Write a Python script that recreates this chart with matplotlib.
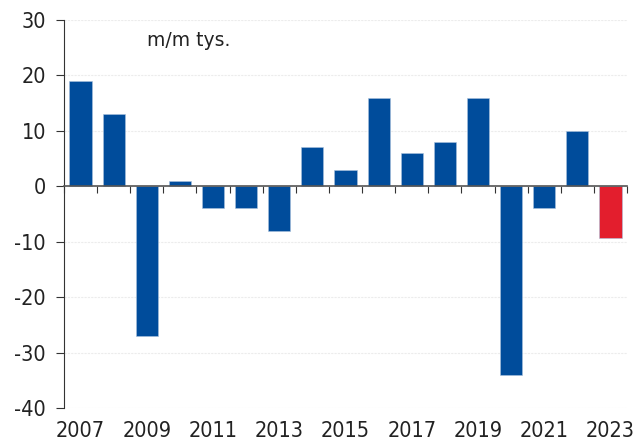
import numpy as np
from matplotlib import pyplot as plt

years = list(range(2007, 2024))
values = [19, 13, -27, 1, -4, -4, -8, 7, 3, 16, 6, 8, 16, -34, -4, 10, -9.3]
colors = ['#004c9b'] * 16 + ['#e31e2d']
year_labels = [str(y) if (y - 2007) % 2 == 0 else '' for y in years]
yticks = [-40, -30, -20, -10, 0, 10, 20, 30]

plt.rcParams['font.family'] = ['DejaVu Sans']
plt.rcParams['font.stretch'] = 'condensed'

fig = plt.figure(figsize=(6.44, 4.43), dpi=100)
ax = fig.add_axes([0.0994, 0.079, 0.8742, 0.8759])

x = np.arange(len(years))
ax.bar(x, values, width=0.67, color=colors, edgecolor='#a9c1dd', linewidth=0.4, zorder=3)

ax.set_xlim(-0.5, len(years) - 0.5)
ax.set_ylim(-40, 30)
ax.set_yticks(yticks)
ax.set_yticklabels([str(v) for v in yticks], fontsize=15.5, color='#222222')
ax.yaxis.grid(True, color='#ececec', linestyle=(0, (2, 1)), linewidth=0.8, zorder=0)

for s in ['top', 'right']:
    ax.spines[s].set_visible(False)
ax.spines['left'].set_color('#333333')
ax.spines['bottom'].set_position(('data', 0))
ax.spines['bottom'].set_color('#555555')
ax.spines['bottom'].set_linewidth(1.2)
ax.spines['bottom'].set_zorder(4)

ax.set_xticks(np.arange(len(years) + 1) - 0.5)
ax.set_xticklabels([])
ax.tick_params(axis='x', length=5, color='#333333')
ax.tick_params(axis='y', length=6, color='#333333', pad=7)

for xi, lab in zip(x, year_labels):
    ax.text(xi, -0.033, lab, transform=ax.get_xaxis_transform(), ha='center', va='top',
            fontsize=15.5, color='#222222')

ax.text(0.147, 0.948, 'm/m tys.', transform=ax.transAxes, fontsize=13.5, color='#222222',
        ha='left', va='center', stretch='normal')

fig.savefig('out.png', dpi=100)
